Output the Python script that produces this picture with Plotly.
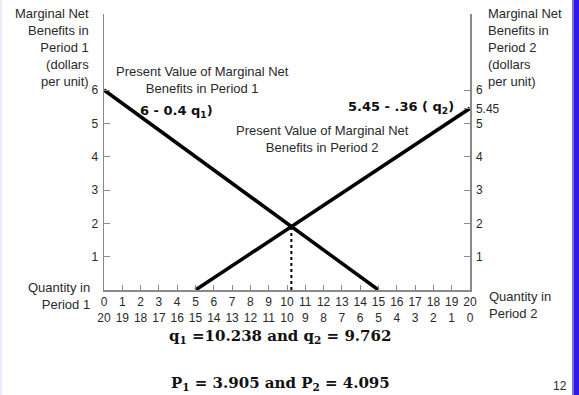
import plotly.graph_objects as go

# ---- data ----
q1_period1 = [0, 15]          # quantity in period 1 where PV MNB1 line starts/ends
mnb_period1 = [6, 0]          # 6 - 0.4 q1
q1_period2 = [5, 20]          # q1 positions (q2 = 20 - q1) for period 2 line
mnb_period2 = [0, 5.45]       # 5.45 - .36 q2
q1_star = [10.238, 10.238]
p_star = [0, 1.905]

x_tickvals = list(range(0, 21))
x_top_labels = [str(v) for v in range(0, 21)]
x_bottom_labels = [str(20 - v) for v in range(0, 21)]
y_left_ticks = [1, 2, 3, 4, 5, 6]
y_right_ticks = [1, 2, 3, 4, 5, 5.45, 6]

# ---- geometry (pixels) ----
W, H = 579, 395
L, R, T, B = 104, 470, 14, 290
PH = B - T


def px(x):
    return x / W


def py(y):
    return 1 - y / H


LABEL = dict(family="Liberation Sans, Arial, sans-serif", size=13, color="#2a2a2a")
BOLD = dict(family="DejaVu Sans, Verdana, sans-serif", size=13, color="#111111")
SERIF = dict(family="DejaVu Serif, Georgia, serif", size=15, color="#111111")
TICKF = dict(family="Liberation Sans, Arial, sans-serif", size=12, color="#2a2a2a")

fig = go.Figure()
fig.add_trace(go.Scatter(x=q1_period1, y=mnb_period1, mode="lines",
                         line=dict(color="black", width=3.5), cliponaxis=False,
                         hoverinfo="skip", showlegend=False))
fig.add_trace(go.Scatter(x=q1_period2, y=mnb_period2, mode="lines", yaxis="y2",
                         line=dict(color="black", width=3.5), cliponaxis=False,
                         hoverinfo="skip", showlegend=False))
fig.add_trace(go.Scatter(x=q1_star, y=p_star, mode="lines",
                         line=dict(color="black", width=2, dash="dot"),
                         hoverinfo="skip", showlegend=False))

axis_line = dict(showline=True, linecolor="#8a8a8a", linewidth=1.5,
                 showgrid=False, zeroline=False, automargin=False)
ydom = [py(B), py(T)]

fig.update_layout(
    width=W, height=H,
    margin=dict(l=0, r=0, t=0, b=0, pad=0, autoexpand=False),
    paper_bgcolor="white", plot_bgcolor="white",
    xaxis=dict(range=[0, 20], domain=[px(L), px(R)], tickmode="array", tickvals=x_tickvals,
               ticktext=[f"{a}<br>{b}" for a, b in zip(x_top_labels, x_bottom_labels)],
               ticks="inside", ticklen=5, tickcolor="#8a8a8a", tickwidth=1,
               tickfont=TICKF, ticklabelstandoff=0, fixedrange=True, **axis_line),
    yaxis=dict(range=[0, PH / (200 / 6)], domain=ydom, tickmode="array", tickvals=y_left_ticks,
               ticks="inside", ticklen=6, tickcolor="#8a8a8a", tickwidth=1,
               tickfont=TICKF, ticklabelstandoff=2, fixedrange=True, **axis_line),
    yaxis2=dict(range=[0, PH / (200 / 6)], overlaying="y", side="right",
                tickmode="array", tickvals=y_right_ticks,
                ticktext=[str(v) for v in y_right_ticks],
                ticks="inside", ticklen=6, tickcolor="#8a8a8a", tickwidth=1,
                tickfont=TICKF, ticklabelstandoff=2, fixedrange=True, **axis_line),
)

ann = []


def add(text, x, y, font, xanchor="center", yanchor="middle", align="center"):
    ann.append(dict(text=text, x=px(x), y=py(y), xref="paper", yref="paper",
                    xanchor=xanchor, yanchor=yanchor, align=align,
                    showarrow=False, font=font))


add("Marginal Net<br>Benefits in<br>Period 1<br>(dollars<br>per unit)", 91, 48,
    LABEL, xanchor="right", align="right")
add("Marginal Net<br>Benefits in<br>Period 2<br>(dollars<br>per unit)", 486, 48,
    LABEL, xanchor="left", align="left")
add("Present Value of Marginal Net<br>Benefits in Period 1", 202, 80, LABEL)
add("Present Value of Marginal Net<br>Benefits in Period 2", 322, 139, LABEL)
add("<b>6 - 0.4 q<sub>1</sub>)</b>", 138, 112, BOLD, xanchor="left")
add("<b>5.45 - .36 ( q<sub>2</sub>)</b>", 456, 107, BOLD, xanchor="right")
add("Quantity in<br>Period 1", 92, 296, LABEL, xanchor="right", align="right")
add("Quantity in<br>Period 2", 487, 305, LABEL, xanchor="left", align="left")
add("<b>q<sub>1</sub> =10.238 and q<sub>2</sub> = 9.762</b>", 167, 336, SERIF, xanchor="left")
add("<b>P<sub>1</sub> = 3.905 and P<sub>2</sub> = 4.095</b>", 169, 383, SERIF, xanchor="left")
add("12", 560, 386, dict(family="Liberation Sans, Arial, sans-serif", size=12, color="#2a2a2a"))

fig.update_layout(annotations=ann)

# page-edge decoration strips (slide border)
fig.add_shape(type="rect", xref="paper", yref="paper",
              x0=px(572), x1=px(574), y0=0, y1=1,
              fillcolor="#7a6cf2", line=dict(width=0), layer="above")
fig.add_shape(type="rect", xref="paper", yref="paper",
              x0=px(574), x1=1, y0=0, y1=1,
              fillcolor="#2e18e6", line=dict(width=0), layer="above")
fig.add_shape(type="rect", xref="paper", yref="paper",
              x0=0, x1=px(2), y0=0, y1=1,
              fillcolor="#ecebfb", line=dict(width=0), layer="above")

fig.write_html("out.html",
               post_script="document.body.style.margin='0';document.body.style.overflow='hidden';",
               config={"displayModeBar": False, "staticPlot": True})
